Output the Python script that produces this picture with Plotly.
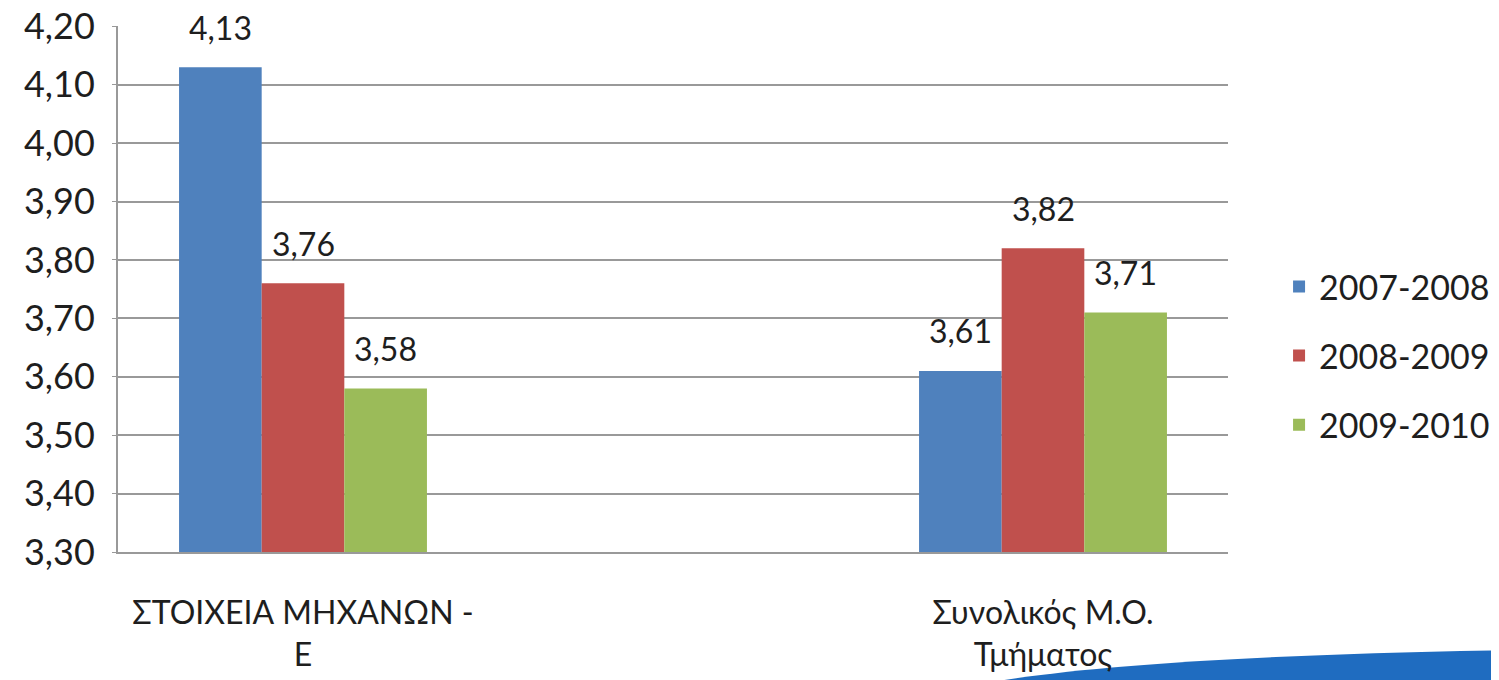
import plotly.graph_objects as go

categories = ["ΣΤΟΙΧΕΙΑ ΜΗΧΑΝΩΝ -<br>Ε", "Συνολικός Μ.Ο.<br>Τμήματος"]
series_names = ["2007-2008", "2008-2009", "2009-2010"]
values_2007_2008 = [4.13, 3.61]
values_2008_2009 = [3.76, 3.82]
values_2009_2010 = [3.58, 3.71]
colors = ["#4F81BD", "#C0504D", "#9BBB59"]
y_ticks = [3.30, 3.40, 3.50, 3.60, 3.70, 3.80, 3.90, 4.00, 4.10, 4.20]

series_values = [values_2007_2008, values_2008_2009, values_2009_2010]

FONT = "Lato"
TXT = "#1e1e1e"
bargap = 0.665
n = len(series_names)
bar_w = (1 - bargap) / n

fig = go.Figure()
annotations = []
for i, (name, vals, col) in enumerate(zip(series_names, series_values, colors)):
    fig.add_trace(go.Bar(
        x=categories, y=vals, name=name, legendgroup=name,
        marker=dict(color=col, line=dict(width=0)),
    ))
    for j, v in enumerate(vals):
        annotations.append(dict(
            x=j + (i - (n - 1) / 2) * bar_w, y=v, xref="x", yref="y",
            text=f"{v:.2f}".replace(".", ","), showarrow=False,
            yanchor="middle", yshift=40,
            font=dict(size=32, family=FONT, color=TXT),
        ))

fig.update_layout(
    width=1499, height=680,
    paper_bgcolor="white", plot_bgcolor="white",
    separators=",.",
    barmode="group",
    bargap=bargap, bargroupgap=0,
    margin=dict(l=110, r=279, t=18, b=136, autoexpand=False),
    font=dict(family=FONT, size=32, color=TXT),
    legend=dict(x=1.046, xanchor="left", y=0.373, yanchor="middle",
                font=dict(size=34, family=FONT, color=TXT),
                itemwidth=30, tracegroupgap=22, bgcolor="rgba(0,0,0,0)"),
    xaxis=dict(range=[-0.25, 1.25], showgrid=False, showline=True,
               linecolor="#999999", linewidth=2, ticks="",
               ticklabelstandoff=32, automargin=False,
               tickfont=dict(size=32, family=FONT, color=TXT)),
    yaxis=dict(range=[y_ticks[0], y_ticks[-1] + 0.0005],
               tickmode="array", tickvals=y_ticks,
               ticktext=[f"{t:.2f}".replace(".", ",") for t in y_ticks],
               ticklabeloverflow="allow", automargin=False,
               showgrid=True, gridcolor="#999999", gridwidth=2,
               showline=True, linecolor="#999999", linewidth=2,
               ticks="outside", ticklen=4, tickcolor="#999999",
               ticklabelstandoff=10,
               zeroline=False,
               tickfont=dict(size=36, family=FONT, color=TXT)),
    annotations=annotations,
    shapes=[dict(type="path", xref="paper", yref="paper",
                 path="M 0.72,-0.28 Q 0.83,-0.20 1.27,-0.186 L 1.27,-0.28 Z",
                 fillcolor="#1f6cc0", line=dict(width=0), layer="below")],
)

fig.write_html("out.html")
